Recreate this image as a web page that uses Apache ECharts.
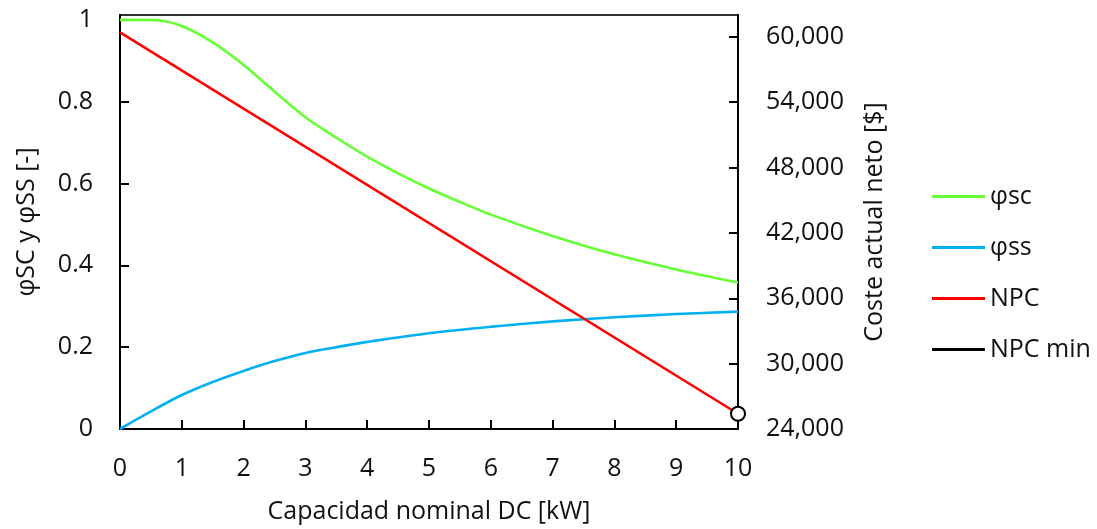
<!DOCTYPE html>
<html>
<head>
<meta charset="utf-8">
<script src="https://cdn.jsdelivr.net/npm/echarts@6/dist/echarts.min.js"></script>
<style>
html,body{margin:0;padding:0;background:#fff;}
#c{width:1097px;height:529px;}
</style>
</head>
<body>
<div id="c"></div>
<script>
// Data
const xTicks = [0,1,2,3,4,5,6,7,8,9,10];
const phiSC = [[0,1.0],[0.3,1.0],[0.6,0.999],[1,0.985],[1.5,0.945],[2,0.89],[2.5,0.825],[3,0.762],[3.5,0.712],[4,0.666],[4.5,0.625],[5,0.588],[5.5,0.555],[6,0.524],[7,0.472],[8,0.427],[9,0.39],[10,0.358]];
const phiSS = [[0,0],[0.5,0.043],[1,0.083],[1.5,0.115],[2,0.142],[2.5,0.166],[3,0.186],[3.5,0.2],[4,0.213],[5,0.234],[6,0.25],[7,0.263],[8,0.273],[9,0.281],[10,0.287]];
const npc = [[0,60400],[10,25400]];
const npcMin = [[10,25400]];
const seriesNames = ['φsc','φss','NPC','NPC min'];

const FONT = 'Open Sans';
const FS = 25;
const chart = echarts.init(document.getElementById('c'), null, {renderer:'canvas'});
chart.setOption({
  animation:false,
  backgroundColor:'#fff',
  textStyle:{fontFamily:FONT},
  grid:{left:120,right:359,top:15,bottom:100,show:true,borderColor:'#333',borderWidth:2,containLabel:false},
  legend:{
    orient:'vertical', left:932, top:184, padding:0,
    itemWidth:53, itemHeight:3, itemGap:26, icon:'rect',
    textStyle:{fontFamily:FONT,fontSize:FS,color:'#111',padding:[0,0,0,0]},
    data:[
      {name:seriesNames[0]},
      {name:seriesNames[1]},
      {name:seriesNames[2]},
      {name:seriesNames[3], itemStyle:{color:'#000',borderWidth:0}}
    ]
  },
  xAxis:{
    type:'value', min:0, max:10, interval:1,
    name:'Capacidad nominal DC [kW]', nameLocation:'middle', nameGap:70,
    nameTextStyle:{fontFamily:FONT,fontSize:FS,color:'#111'},
    axisLine:{lineStyle:{color:'#000',width:2}},
    axisTick:{inside:true,length:9,lineStyle:{color:'#000',width:2}},
    axisLabel:{fontFamily:FONT,fontSize:FS,color:'#111',margin:27},
    splitLine:{show:false}
  },
  yAxis:[{
    type:'value', min:0, max:1.012, interval:0.2, position:'left',
    name:'φSC y φSS [-]', nameLocation:'middle', nameGap:81, nameRotate:90,
    nameTextStyle:{fontFamily:FONT,fontSize:FS,color:'#111'},
    axisLine:{show:true,lineStyle:{color:'#000',width:2}},
    axisTick:{show:true,inside:true,length:9,lineStyle:{color:'#000',width:2}},
    axisLabel:{fontFamily:FONT,fontSize:FS,color:'#111',margin:27,showMaxLabel:false,
      formatter:v=>String(Math.round(v*10)/10)},
    splitLine:{show:false}
  },{
    type:'value', min:24000, max:62000, interval:6000, position:'right',
    name:'Coste actual neto [$]', nameLocation:'middle', nameGap:124, nameRotate:90,
    nameTextStyle:{fontFamily:FONT,fontSize:FS,color:'#111'},
    axisLine:{show:true,lineStyle:{color:'#000',width:2}},
    axisTick:{show:true,inside:true,length:9,lineStyle:{color:'#000',width:2}},
    axisLabel:{fontFamily:FONT,fontSize:FS,color:'#111',margin:28,showMaxLabel:false,
      formatter:v=>v.toLocaleString('en-US')},
    splitLine:{show:false}
  }],
  series:[
    {name:seriesNames[0],type:'line',yAxisIndex:0,data:phiSC,smooth:0.3,showSymbol:false,symbol:'none',
     lineStyle:{color:'#66FF33',width:2.6},itemStyle:{color:'#66FF33'}},
    {name:seriesNames[1],type:'line',yAxisIndex:0,data:phiSS,smooth:0.3,showSymbol:false,symbol:'none',
     lineStyle:{color:'#00B0F0',width:2.6},itemStyle:{color:'#00B0F0'}},
    {name:seriesNames[2],type:'line',yAxisIndex:1,data:npc,showSymbol:false,symbol:'none',
     lineStyle:{color:'#FF0000',width:2.6},itemStyle:{color:'#FF0000'}},
    {name:seriesNames[3],type:'line',yAxisIndex:1,data:npcMin,symbol:'circle',symbolSize:14,showSymbol:true,
     lineStyle:{color:'#000',width:2.6},itemStyle:{color:'#fff',borderColor:'#000',borderWidth:2},
     z:5}
  ]
});
</script>
</body>
</html>
